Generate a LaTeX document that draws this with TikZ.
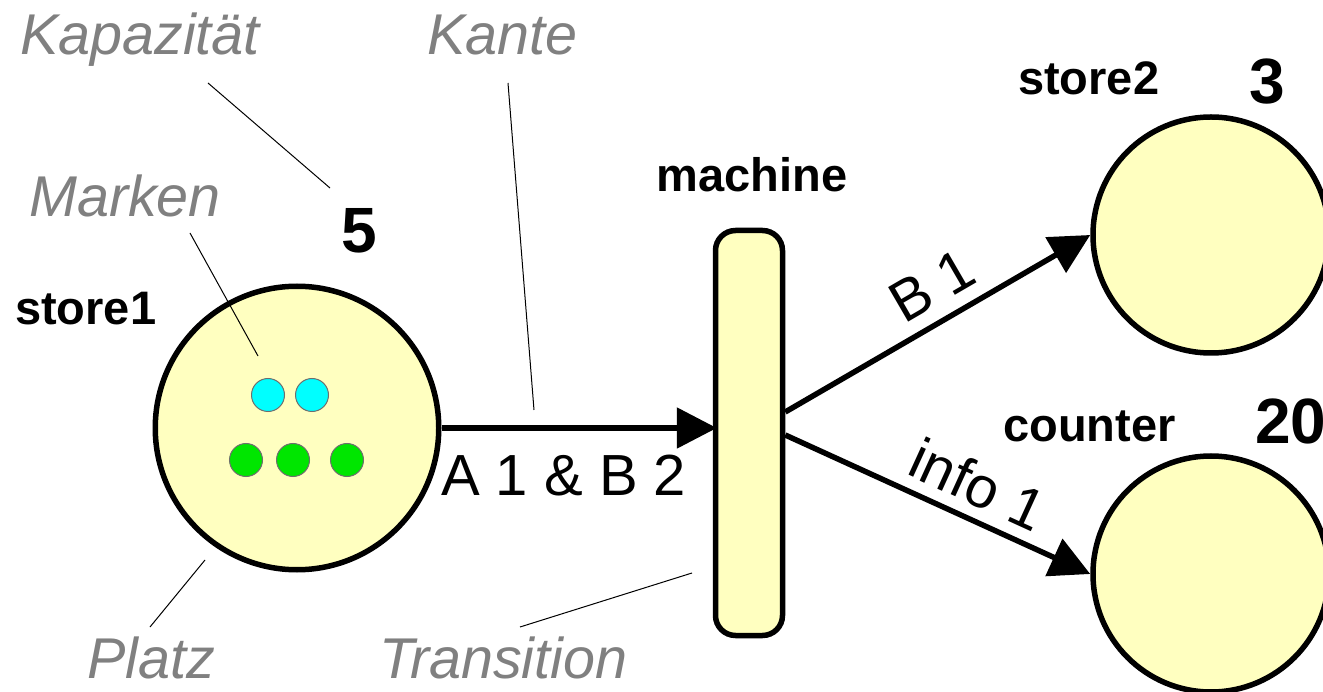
\documentclass[tikz,border=0pt]{standalone}
\usepackage{fontspec}
\setmainfont{Liberation Sans}
\usetikzlibrary{arrows.meta}

\definecolor{placefill}{RGB}{255,255,192}
\definecolor{tokcyan}{RGB}{0,255,255}
\definecolor{tokgreen}{RGB}{0,230,0}
\definecolor{tokenedge}{RGB}{110,110,110}
\definecolor{notegray}{RGB}{128,128,128}

\begin{document}
\begin{tikzpicture}[x=1pt,y=-1pt,
  placebox/.style={circle, draw, line width=5.5pt, fill=placefill, inner sep=0pt, minimum size=#1},
  transbox/.style={rectangle, draw, line width=5.5pt, fill=placefill, rounded corners=20pt,
                   inner sep=0pt, minimum width=67pt, minimum height=405pt},
  flow/.style={line width=5.5pt, -{Triangle[length=40pt,width=40pt]}},
  token/.style={circle, draw=tokenedge, line width=1pt, inner sep=0pt, minimum size=33pt, fill=#1},
  plabel/.style={font=\fontsize{47}{50}\selectfont\bfseries, inner sep=0pt},
  capnum/.style={font=\fontsize{64}{66}\selectfont\bfseries, inner sep=0pt},
  inscr/.style={font=\fontsize{58}{60}\selectfont, inner sep=0pt},
  annot/.style={font=\fontsize{57.5}{60}\selectfont\itshape, text=notegray, inner sep=0pt},
  leader/.style={line width=1pt}
]
\useasboundingbox (0,0) rectangle (1323,692);
\clip (0,0) rectangle (1323,692);

% places and the transition
\node[placebox=283.5pt] (store1) at (297,428) {};
\node[placebox=236pt] (store2) at (1211,235) {};
\node[placebox=236pt] (counter) at (1211,574) {};
\node[transbox] (machine) at (749,433) {};

% tokens in store1
\node[token=tokcyan]  (m1) at (268,395) {};
\node[token=tokcyan]  (m2) at (312,395) {};
\node[token=tokgreen] (m3) at (246,460) {};
\node[token=tokgreen] (m4) at (293,460) {};
\node[token=tokgreen] (m5) at (347,460) {};

% names and capacities
\node[plabel, anchor=base west] (lstore1) at (15,325) {store1};
\node[plabel, anchor=base] (lmachine) at (752,192) {machine};
\node[plabel, anchor=base west] (lstore2) at (1018,95) {store2};
\node[plabel, anchor=base west] (lcounter) at (1003,442) {counter};
\node[capnum, anchor=base west] (k1) at (341,253) {5};
\node[capnum, anchor=base west] (k2) at (1249,104) {3};
\node[capnum, anchor=base west] (k3) at (1255,443) {20};

% arcs with inscriptions
\coordinate (tin) at ([xshift=4pt]machine.west);
\draw[flow] (store1.east) -- (store1.east -| tin);
\node[inscr, anchor=base west] (i1) at (441,495) {A 1 \& B 2};
\draw[flow] ([yshift=21pt]machine.east) -- (store2.west)
  node[inscr, sloped, above=13pt, pos=0.54] (i2) {B 1};
\draw[flow] ([yshift=-2pt]machine.east) -- (counter.west)
  node[inscr, sloped, above=11pt, pos=0.585] (i3) {info 1};

% explanatory terms
\node[annot, anchor=base west] (nkap) at (20,55) {Kapazität};
\node[annot, anchor=base west] (nkante) at (427,55) {Kante};
\node[annot, anchor=base west] (nmarken) at (29,217) {Marken};
\node[annot, anchor=base west] (nplatz) at (87,678) {Platz};
\node[annot, anchor=base west] (ntrans) at (379,678) {Transition};

% leader lines
\coordinate (kapA) at (208,83);   \coordinate (kapB) at (330,188);
\coordinate (kanA) at (508,83);   \coordinate (kanB) at (534,410);
\coordinate (marA) at (190,233);  \coordinate (marB) at (258,356);
\coordinate (plaA) at (205,560);  \coordinate (plaB) at (150,627);
\coordinate (traA) at (692,573);  \coordinate (traB) at (520,627);
\draw[leader] (kapA) -- (kapB);
\draw[leader] (kanA) -- (kanB);
\draw[leader] (marA) -- (marB);
\draw[leader] (plaA) -- (plaB);
\draw[leader] (traA) -- (traB);
\end{tikzpicture}
\end{document}
